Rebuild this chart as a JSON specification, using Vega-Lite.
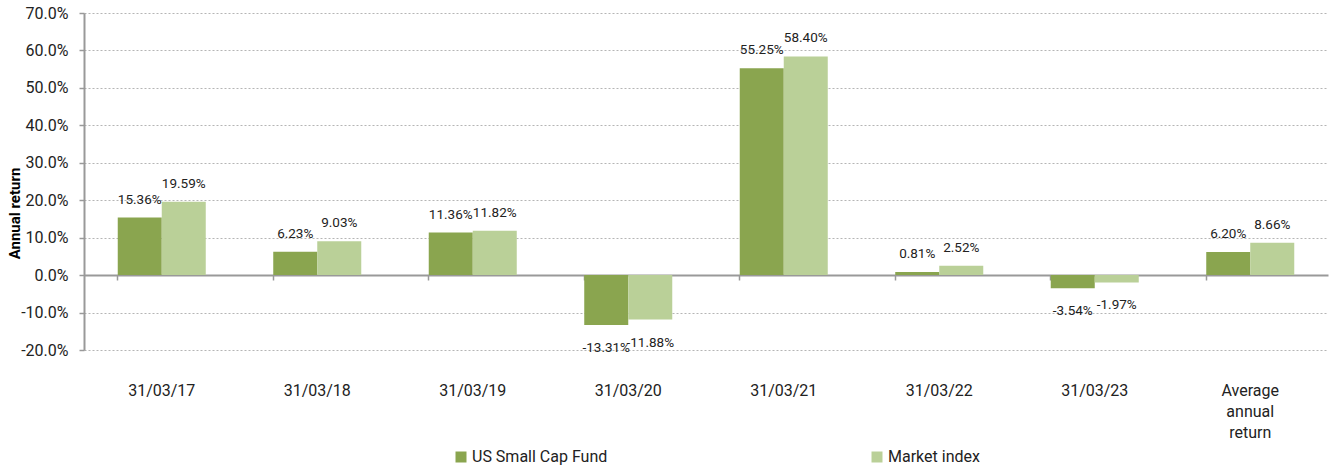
{
  "$schema": "https://vega.github.io/schema/vega-lite/v6.json",
  "width": 1244,
  "height": 337,
  "autosize": {"type": "none"},
  "padding": {"left": 84, "top": 13, "right": 2, "bottom": 117},
  "config": {
    "font": "Roboto",
    "view": {"stroke": null},
    "locale": {"number": {"decimal": ".", "thousands": ",", "grouping": [3], "currency": ["$", ""], "minus": "-"}}
  },
  "data": {
    "values": [
      {"period": "31/03/17", "series": "US Small Cap Fund", "value": 0.1536},
      {"period": "31/03/17", "series": "Market index", "value": 0.1959},
      {"period": "31/03/18", "series": "US Small Cap Fund", "value": 0.0623},
      {"period": "31/03/18", "series": "Market index", "value": 0.0903},
      {"period": "31/03/19", "series": "US Small Cap Fund", "value": 0.1136},
      {"period": "31/03/19", "series": "Market index", "value": 0.1182},
      {"period": "31/03/20", "series": "US Small Cap Fund", "value": -0.1331},
      {"period": "31/03/20", "series": "Market index", "value": -0.1188},
      {"period": "31/03/21", "series": "US Small Cap Fund", "value": 0.5525},
      {"period": "31/03/21", "series": "Market index", "value": 0.584},
      {"period": "31/03/22", "series": "US Small Cap Fund", "value": 0.0081},
      {"period": "31/03/22", "series": "Market index", "value": 0.0252},
      {"period": "31/03/23", "series": "US Small Cap Fund", "value": -0.0354},
      {"period": "31/03/23", "series": "Market index", "value": -0.0197},
      {"period": "Average annual return", "series": "US Small Cap Fund", "value": 0.062},
      {"period": "Average annual return", "series": "Market index", "value": 0.0866}
    ]
  },
  "encoding": {
    "xOffset": {"field": "series", "type": "nominal", "scale": {"domain": ["US Small Cap Fund", "Market index"], "paddingInner": 0, "paddingOuter": 0}},
    "y": {
      "field": "value", "type": "quantitative",
      "scale": {"domain": [-0.2, 0.7], "nice": false, "zero": false},
      "axis": {
        "values": [-0.2, -0.1, 0, 0.1, 0.2, 0.3, 0.4, 0.5, 0.6, 0.7],
        "format": ".1%",
        "title": "Annual return",
        "titleFontSize": 15,
        "titleFontWeight": "bold",
        "titleColor": "#000000",
        "titleX": -70,
        "titleY": 200,
        "titleBaseline": "middle",
        "labelFontSize": 16,
        "labelColor": "#222222",
        "labelPadding": 11,
        "tickSize": 5,
        "tickColor": "#999999",
        "tickWidth": 1.5,
        "domainColor": "#999999",
        "domainWidth": 2,
        "grid": true,
        "gridColor": "#b5b5b5",
        "gridDash": [2, 2],
        "gridWidth": 1
      }
    }
  },
  "layer": [
    {
      "mark": {"type": "bar"},
      "encoding": {
        "x": {
          "field": "period", "type": "nominal", "sort": null,
          "scale": {"paddingInner": 0.434, "paddingOuter": 0.217},
          "axis": {
            "orient": "bottom",
            "title": null,
            "domain": false,
            "ticks": false,
            "grid": false,
            "labelAngle": 0,
            "labelFontSize": 16,
            "labelColor": "#222222",
            "labelPadding": 32,
            "labelLineHeight": 21,
            "labelExpr": "datum.label == 'Average annual return' ? split(datum.label, ' ') : datum.label"
          }
        },
        "color": {
          "field": "series", "type": "nominal",
          "scale": {"domain": ["US Small Cap Fund", "Market index"], "range": ["#8aa54f", "#bad098"]},
          "legend": {
            "title": null,
            "orient": "none",
            "legendX": 369,
            "legendY": 436,
            "direction": "horizontal",
            "symbolType": "square",
            "symbolSize": 121,
            "symbolStrokeWidth": 0,
            "labelFontSize": 16,
            "labelColor": "#222222",
            "labelOffset": 3,
            "columnPadding": 261
          }
        }
      }
    },
    {
      "transform": [{"filter": "datum.value >= 0"}],
      "mark": {"type": "text", "baseline": "alphabetic", "dy": -14, "fontSize": 13.5, "color": "#222222"},
      "encoding": {
        "x": {
          "field": "period", "type": "nominal", "sort": null,
          "scale": {"paddingInner": 0.434, "paddingOuter": 0.217},
          "axis": {
            "orient": "bottom",
            "offset": -75,
            "title": null,
            "labels": false,
            "grid": false,
            "domain": true,
            "domainColor": "#999999",
            "domainWidth": 2,
            "ticks": true,
            "tickSize": 5,
            "tickColor": "#999999",
            "tickWidth": 1.5,
            "bandPosition": 0
          }
        },
        "text": {"field": "value", "type": "quantitative", "format": ".2%"}
      }
    },
    {
      "transform": [{"filter": "datum.value < 0"}],
      "mark": {"type": "text", "baseline": "alphabetic", "dy": 27, "fontSize": 13.5, "color": "#222222"},
      "encoding": {
        "x": {
          "field": "period", "type": "nominal", "sort": null,
          "scale": {"paddingInner": 0.434, "paddingOuter": 0.217},
          "axis": null
        },
        "text": {"field": "value", "type": "quantitative", "format": ".2%"}
      }
    }
  ],
  "resolve": {"axis": {"x": "independent"}}
}
